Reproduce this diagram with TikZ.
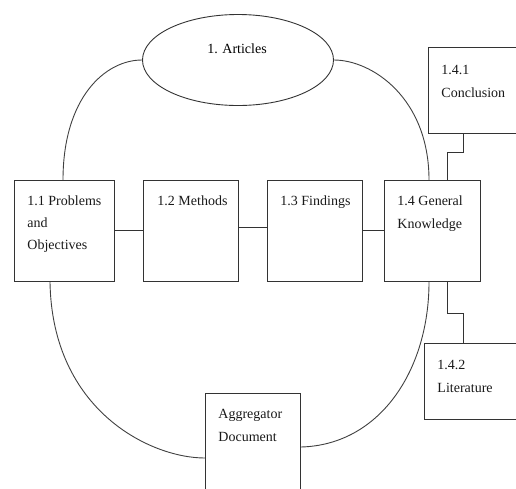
\documentclass[tikz,border=0pt]{standalone}
\usepackage{fontspec}
\setmainfont{Liberation Serif}
\usetikzlibrary{shapes.geometric}
\begin{document}
\begin{tikzpicture}[x=1pt,y=-1pt,
  line width=0.9pt, draw=black!80,
  boxshape/.style={draw=black!80, line width=0.9pt, rectangle, inner sep=0pt, anchor=north west},
  lbl/.style={anchor=base west, inner sep=0pt, font=\fontsize{14}{23}\selectfont, text=black!90},
  conn/.style={draw=black!80, line width=0.9pt},
  arc/.style={draw=black!75, line width=0.9pt}]
\useasboundingbox (0,0) rectangle (516,488);
\clip (0,0) rectangle (516,488);
% ellipse
\node[draw=black!80, line width=0.9pt, ellipse, minimum width=191pt, minimum height=91pt, inner sep=0pt] (art) at (238,60) {};
\node[anchor=base, inner sep=0pt, font=\fontsize{14}{23}\selectfont] (artt) at (237,53) {1. Articles};
% boxes
\node[boxshape, minimum width=100pt, minimum height=101pt] (b11) at (14,180) {};
\node[boxshape, minimum width=95pt, minimum height=101pt] (b12) at (143,180) {};
\node[boxshape, minimum width=95pt, minimum height=101pt] (b13) at (267,180) {};
\node[boxshape, minimum width=96pt, minimum height=101pt] (b14) at (384,180) {};
\node[boxshape, minimum width=110pt, minimum height=86pt] (b141) at (428,47) {};
\node[boxshape, minimum width=110pt, minimum height=76pt] (b142) at (424,343) {};
\node[boxshape, minimum width=95pt, minimum height=120pt] (agg) at (205,393) {};
% labels
\node[lbl] (t11a) at (27,205) {1.1 Problems};
\node[lbl] (t11b) at (27,227) {and};
\node[lbl] (t11c) at (27,249) {Objectives};
\node[lbl] (t12) at (157,205) {1.2 Methods};
\node[lbl] (t13) at (280,205) {1.3 Findings};
\node[lbl] (t14a) at (397,205) {1.4 General};
\node[lbl] (t14b) at (397,228) {Knowledge};
\node[lbl] (t141a) at (441,74) {1.4.1};
\node[lbl] (t141b) at (441,97) {Conclusion};
\node[lbl] (t142a) at (437,369) {1.4.2};
\node[lbl] (t142b) at (437,392) {Literature};
\node[lbl] (tagg1) at (218,418) {Aggregator};
\node[lbl] (tagg2) at (218,441) {Document};
% straight connectors
\draw[conn] (b11.east |- 0,230) -- (b12.west |- 0,230);
\draw[conn] (b12.east |- 0,227) -- (b13.west |- 0,227);
\draw[conn] (b13.east |- 0,230) -- (b14.west |- 0,230);
% stepped connectors
\coordinate (s1) at (463,152);
\coordinate (s2) at (447,152);
\draw[conn] (b141.south -| s1) -- (s1) -- (s2) -- (b14.north -| s2);
\coordinate (s3) at (447,313);
\coordinate (s4) at (463,313);
\draw[conn] (b14.south -| s3) -- (s3) -- (s4) -- (b142.north -| s4);
% arcs
\draw[arc] (art.west) .. controls (105,60) and (63,98) .. (b11.north -| 63,0);
\draw[arc] (art.east) .. controls (372,60) and (429,98) .. (b14.north -| 429,0);
\draw[arc] (b11.south -| 50,0) .. controls (52,410) and (150,458) .. (agg.west |- 0,458);
\draw[arc] (agg.east |- 0,447) .. controls (380,445) and (429,370) .. (b14.south -| 429,0);
\end{tikzpicture}
\end{document}
